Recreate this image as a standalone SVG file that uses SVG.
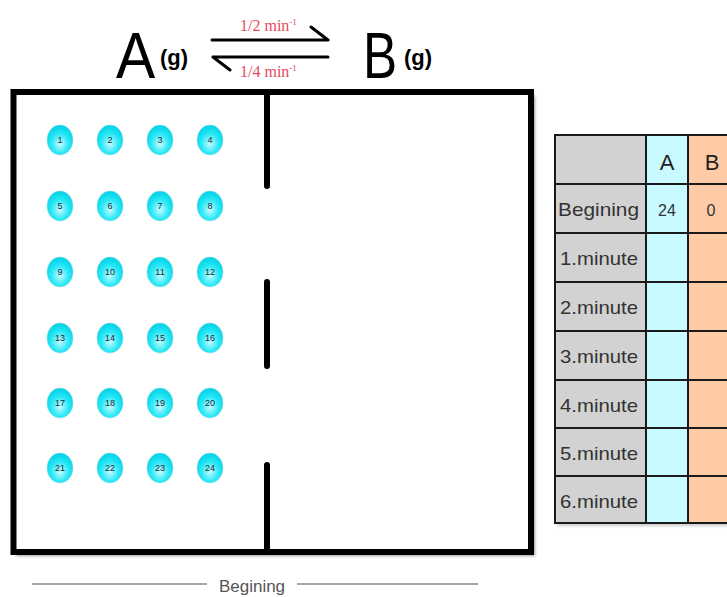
<svg xmlns="http://www.w3.org/2000/svg" width="727" height="597" viewBox="0 0 727 597">
<defs>
<radialGradient id="ball" cx="0.5" cy="0.62" r="0.6">
<stop offset="0" stop-color="#c8fcff"/>
<stop offset="0.55" stop-color="#2ae8f6"/>
<stop offset="1" stop-color="#00d2e6"/>
</radialGradient>
<filter id="sh" x="-5%" y="-5%" width="110%" height="110%"><feGaussianBlur stdDeviation="1.5"/></filter>
</defs>
<style>
.wall{fill:none;stroke:#000;stroke-width:6;stroke-linecap:round}
.ball ellipse{fill:url(#ball);stroke:#8fdce8;stroke-width:0.6}
.ball text{font-family:"Liberation Sans",Arial,sans-serif;font-size:9px;fill:#1a2a3a;text-anchor:middle}
.big{font-family:"Liberation Sans",Arial,sans-serif;font-size:64px;fill:#000}
.g{font-family:"Liberation Sans",Arial,sans-serif;font-size:22px;font-weight:bold;fill:#000}
.rate{font-family:"Liberation Serif","Times New Roman",serif;font-size:16px;fill:#e64a60}
.arr{stroke:#000;stroke-width:3;fill:none;stroke-linecap:round;stroke-linejoin:round}
.cell{stroke:#1a1a1a;stroke-width:2}
.lab{font-family:"Liberation Sans",Arial,sans-serif;font-size:19px;fill:#333}
.hd{font-family:"Liberation Sans",Arial,sans-serif;font-size:22px;fill:#222;text-anchor:middle}
.num{font-family:"Liberation Sans",Arial,sans-serif;font-size:16px;fill:#333;text-anchor:middle}
</style>

<g id="equation">
<text class="big" transform="translate(116,78) scale(0.92,1)">A</text>
<text class="g" x="160" y="65">(g)</text>
<text class="big" transform="translate(363,78) scale(0.8,1)">B</text>
<text class="g" x="404" y="65">(g)</text>
<path class="arr" d="M212 40 H328 M328 40 L311 27"/>
<path class="arr" d="M328 57 H213 M213 57 L230 70"/>
<text class="rate" x="240" y="31">1/2 min<tspan font-size="9" dy="-6">-1</tspan></text>
<text class="rate" x="240" y="77">1/4 min<tspan font-size="9" dy="-6">-1</tspan></text>
</g>

<g id="container">
<rect x="16" y="96" width="519" height="460" fill="#555" filter="url(#sh)" opacity="0.6"/>
<rect x="13.5" y="92" width="517.5" height="460" fill="#fff"/>
<rect x="13.5" y="92" width="517.5" height="460" class="wall"/>
<path class="wall" d="M267 92 V186 M267 282 V366 M267 465 V552"/>
</g>

<g id="balls">
<g class="ball"><ellipse cx="60" cy="140" rx="13" ry="15"/><text x="60" y="143">1</text></g>
<g class="ball"><ellipse cx="110" cy="140" rx="13" ry="15"/><text x="110" y="143">2</text></g>
<g class="ball"><ellipse cx="160" cy="140" rx="13" ry="15"/><text x="160" y="143">3</text></g>
<g class="ball"><ellipse cx="210" cy="140" rx="13" ry="15"/><text x="210" y="143">4</text></g>
<g class="ball"><ellipse cx="60" cy="206" rx="13" ry="15"/><text x="60" y="209">5</text></g>
<g class="ball"><ellipse cx="110" cy="206" rx="13" ry="15"/><text x="110" y="209">6</text></g>
<g class="ball"><ellipse cx="160" cy="206" rx="13" ry="15"/><text x="160" y="209">7</text></g>
<g class="ball"><ellipse cx="210" cy="206" rx="13" ry="15"/><text x="210" y="209">8</text></g>
<g class="ball"><ellipse cx="60" cy="272" rx="13" ry="15"/><text x="60" y="275">9</text></g>
<g class="ball"><ellipse cx="110" cy="272" rx="13" ry="15"/><text x="110" y="275">10</text></g>
<g class="ball"><ellipse cx="160" cy="272" rx="13" ry="15"/><text x="160" y="275">11</text></g>
<g class="ball"><ellipse cx="210" cy="272" rx="13" ry="15"/><text x="210" y="275">12</text></g>
<g class="ball"><ellipse cx="60" cy="338" rx="13" ry="15"/><text x="60" y="341">13</text></g>
<g class="ball"><ellipse cx="110" cy="338" rx="13" ry="15"/><text x="110" y="341">14</text></g>
<g class="ball"><ellipse cx="160" cy="338" rx="13" ry="15"/><text x="160" y="341">15</text></g>
<g class="ball"><ellipse cx="210" cy="338" rx="13" ry="15"/><text x="210" y="341">16</text></g>
<g class="ball"><ellipse cx="60" cy="403" rx="13" ry="15"/><text x="60" y="406">17</text></g>
<g class="ball"><ellipse cx="110" cy="403" rx="13" ry="15"/><text x="110" y="406">18</text></g>
<g class="ball"><ellipse cx="160" cy="403" rx="13" ry="15"/><text x="160" y="406">19</text></g>
<g class="ball"><ellipse cx="210" cy="403" rx="13" ry="15"/><text x="210" y="406">20</text></g>
<g class="ball"><ellipse cx="60" cy="468" rx="13" ry="15"/><text x="60" y="471">21</text></g>
<g class="ball"><ellipse cx="110" cy="468" rx="13" ry="15"/><text x="110" y="471">22</text></g>
<g class="ball"><ellipse cx="160" cy="468" rx="13" ry="15"/><text x="160" y="471">23</text></g>
<g class="ball"><ellipse cx="210" cy="468" rx="13" ry="15"/><text x="210" y="471">24</text></g>
</g>

<g id="table">
<rect x="557" y="137" width="175" height="389" fill="#999" filter="url(#sh)" opacity="0.5"/>
<rect x="555" y="135" width="91" height="388" fill="#d2d2d2"/>
<rect x="646" y="135" width="42" height="388" fill="#c8faff"/>
<rect x="688" y="135" width="45" height="388" fill="#ffcaa6"/>
<g class="cell" fill="none">
<rect x="555" y="135" width="180" height="388"/>
<path d="M646 135 V523 M688 135 V523 M555 184 H735 M555 233 H735 M555 282 H735 M555 331 H735 M555 380 H735 M555 428 H735 M555 476 H735"/>
</g>
<text class="hd" x="667" y="170">A</text>
<text class="hd" x="712" y="170">B</text>
<text class="lab" x="558" y="216" textLength="81" lengthAdjust="spacingAndGlyphs">Begining</text>
<text class="num" x="667" y="216">24</text>
<text class="num" x="711" y="216">0</text>
<text class="lab" x="560" y="265" textLength="78" lengthAdjust="spacingAndGlyphs">1.minute</text>
<text class="lab" x="560" y="314" textLength="78" lengthAdjust="spacingAndGlyphs">2.minute</text>
<text class="lab" x="560" y="363" textLength="78" lengthAdjust="spacingAndGlyphs">3.minute</text>
<text class="lab" x="560" y="412" textLength="78" lengthAdjust="spacingAndGlyphs">4.minute</text>
<text class="lab" x="560" y="460" textLength="78" lengthAdjust="spacingAndGlyphs">5.minute</text>
<text class="lab" x="560" y="508" textLength="78" lengthAdjust="spacingAndGlyphs">6.minute</text>
</g>

<g id="caption">
<path d="M32 584 H207 M297 584 H478" stroke="#888" stroke-width="1.5"/>
<text x="252" y="592" font-family="'Liberation Sans',Arial,sans-serif" font-size="17" fill="#555" text-anchor="middle">Begining</text>
</g>
</svg>
